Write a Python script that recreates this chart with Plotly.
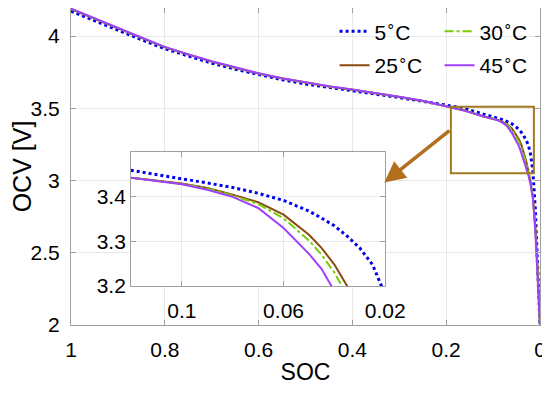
import plotly.graph_objects as go

soc = [1.0, 0.95, 0.9, 0.85, 0.8, 0.75, 0.7, 0.65, 0.6, 0.55, 0.5, 0.45, 0.4, 0.35,
       0.3, 0.25, 0.2, 0.16, 0.12, 0.1, 0.09, 0.08, 0.07, 0.06, 0.05, 0.045, 0.04,
       0.035, 0.03, 0.025, 0.02, 0.015, 0.01, 0.005, 0.002, 0.0]

ocv_5 = [4.172, 4.105, 4.040, 3.975, 3.912, 3.860, 3.812, 3.770, 3.732, 3.698, 3.668,
         3.643, 3.620, 3.598, 3.574, 3.550, 3.522, 3.497, 3.460, 3.440, 3.431, 3.421,
         3.408, 3.392, 3.368, 3.352, 3.335, 3.312, 3.285, 3.248, 3.180, 3.060, 2.800,
         2.420, 2.150, 2.000]
ocv_25 = [4.186, 4.118, 4.052, 3.987, 3.922, 3.870, 3.823, 3.780, 3.740, 3.706, 3.676,
          3.650, 3.628, 3.604, 3.578, 3.550, 3.514, 3.484, 3.443, 3.430, 3.420, 3.405,
          3.388, 3.360, 3.315, 3.285, 3.248, 3.200, 3.140, 3.070, 2.990, 2.880, 2.680,
          2.380, 2.140, 2.000]
ocv_30 = [4.187, 4.119, 4.053, 3.988, 3.923, 3.871, 3.824, 3.781, 3.741, 3.707, 3.677,
          3.651, 3.629, 3.605, 3.579, 3.551, 3.514, 3.484, 3.443, 3.429, 3.419, 3.403,
          3.384, 3.352, 3.302, 3.270, 3.230, 3.180, 3.125, 3.060, 2.985, 2.875, 2.670,
          2.370, 2.130, 2.000]
ocv_45 = [4.190, 4.122, 4.055, 3.990, 3.925, 3.872, 3.825, 3.782, 3.742, 3.708, 3.678,
          3.652, 3.630, 3.606, 3.580, 3.552, 3.512, 3.482, 3.443, 3.428, 3.416, 3.400,
          3.375, 3.330, 3.272, 3.238, 3.192, 3.140, 3.090, 3.040, 2.970, 2.870, 2.650,
          2.350, 2.120, 2.000]

labels = ["5<sup>∘</sup>C", "25<sup>∘</sup>C", "30<sup>∘</sup>C", "45<sup>∘</sup>C"]
series = [ocv_5, ocv_25, ocv_30, ocv_45]
colors = ["#0000F0", "#8B4A12", "#77CC00", "#A040FF"]
dashes = ["dot", "solid", "dashdot", "solid"]
widths = [3, 2, 2, 2]
legends = ["legend", "legend2", "legend", "legend2"]

main_xticks = [1, 0.8, 0.6, 0.4, 0.2, 0]
main_yticks = [2, 2.5, 3, 3.5, 4]
inset_xticks = [0.1, 0.06, 0.02]
inset_yticks = [3.2, 3.3, 3.4]

zoom_box = dict(x0=0.19, x1=0.013, y0=3.05, y1=3.51)
arrow_tail = (0.19, 3.354)
arrow_tip = (0.332, 2.986)

FONT = "Liberation Sans, Arial, sans-serif"
fig = go.Figure()

for lab, ys, c, d, w, lg in zip(labels, series, colors, dashes, widths, legends):
    fig.add_trace(go.Scatter(x=soc, y=ys, mode="lines", name=lab, legend=lg,
                             line=dict(color=c, dash=d, width=w),
                             xaxis="x", yaxis="y"))
for lab, ys, c, d, w in zip(labels, series, colors, dashes, widths):
    fig.add_trace(go.Scatter(x=soc, y=ys, mode="lines", name=lab, showlegend=False,
                             line=dict(color=c, dash=d, width=w),
                             xaxis="x2", yaxis="y2"))

def axis_common(standoff):
    return dict(showline=True, mirror="ticks", linecolor="#A0A0A0", linewidth=1,
                ticks="inside", ticklen=5, tickcolor="#A0A0A0", automargin=False,
                showgrid=True, gridcolor="#E8E8E8", zeroline=False,
                ticklabelstandoff=standoff, ticklabeloverflow="allow",
                tickfont=dict(family=FONT, size=21, color="black"))

fig.update_layout(
    width=542, height=377,
    margin=dict(l=63, r=10, t=0, b=60, autoexpand=False),
    paper_bgcolor="white", plot_bgcolor="white",
    xaxis=dict(range=[1, 0], tickvals=main_xticks, ticktext=[str(v) for v in main_xticks],
               domain=[0, 1], title=dict(text="SOC", font=dict(family=FONT, size=23, color="black"), standoff=8),
               **axis_common(6)),
    yaxis=dict(range=[2, 4.194], tickvals=main_yticks, ticktext=[str(v) for v in main_yticks],
               domain=[0, 1], title=dict(text="OCV [V]", font=dict(family=FONT, size=25, color="black"), standoff=5),
               **axis_common(6)),
    xaxis2=dict(range=[0.12, 0.02], tickvals=inset_xticks, ticktext=[str(v) for v in inset_xticks],
                domain=[0.128, 0.67], anchor="y2", **axis_common(6)),
    yaxis2=dict(range=[3.2, 3.5], tickvals=inset_yticks, ticktext=[str(v) for v in inset_yticks],
                domain=[0.123, 0.545], anchor="x2", **axis_common(0)),
    legend=dict(orientation="h", x=0.562, y=0.99, xanchor="left", yanchor="top",
                entrywidth=60, entrywidthmode="pixels", bgcolor="rgba(255,255,255,0)",
                font=dict(family=FONT, size=21, color="black"), tracegroupgap=0),
    legend2=dict(orientation="h", x=0.562, y=0.883, xanchor="left", yanchor="top",
                 entrywidth=60, entrywidthmode="pixels", bgcolor="rgba(255,255,255,0)",
                 font=dict(family=FONT, size=21, color="black"), tracegroupgap=0),
    showlegend=True,
)

# white background of inset
fig.add_shape(type="rect", xref="x2 domain", yref="y2 domain", x0=0, x1=1, y0=0, y1=1,
              fillcolor="white", line=dict(width=0), layer="below")
# zoom rectangle on main axes
fig.add_shape(type="rect", xref="x", yref="y", x0=zoom_box["x0"], x1=zoom_box["x1"],
              y0=zoom_box["y0"], y1=zoom_box["y1"], line=dict(color="#A07A1E", width=2))
# arrow
fig.add_annotation(x=arrow_tip[0], y=arrow_tip[1], ax=arrow_tail[0], ay=arrow_tail[1],
                   xref="x", yref="y", axref="x", ayref="y", text="", showarrow=True,
                   arrowhead=2, arrowsize=1.2, arrowwidth=3.5, arrowcolor="#B36E1E")

fig.write_html("out.html")
